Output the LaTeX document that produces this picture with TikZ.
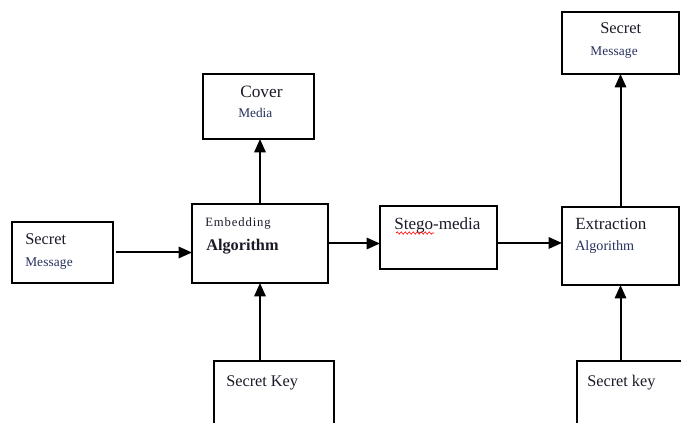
\documentclass[tikz,border=0pt]{standalone}
\usepackage{fontspec}
\setmainfont{Liberation Serif}
\usetikzlibrary{arrows.meta,decorations.pathmorphing}
\definecolor{txt}{HTML}{1A1A28}
\definecolor{txtb}{HTML}{26305E}
\tikzset{
  box/.style={draw, line width=1.3pt, inner sep=0pt, outer sep=0pt},
  arr/.style={line width=1.5pt, -{Triangle[length=10pt,width=8.5pt]}},
  lbl/.style={anchor=base west, inner sep=0pt, text=txt},
  lbls/.style={anchor=base west, inner sep=0pt, text=txtb},
}
\begin{document}
\begin{tikzpicture}[x=0.75pt,y=-0.75pt]
\useasboundingbox (0,0) rectangle (681,423);
\clip (0,0) rectangle (681,423);
% boxes
\node[box, minimum width=75.75pt, minimum height=45.75pt] (msg) at (62.5,252.5) {};
\node[box, minimum width=83.25pt, minimum height=48.75pt] (cover) at (258.5,106.5) {};
\node[box, minimum width=102pt, minimum height=59.25pt] (emb) at (260,243.5) {};
\node[box, minimum width=87.75pt, minimum height=47.25pt] (stego) at (438.5,237.5) {};
\node[box, minimum width=87.75pt, minimum height=58.5pt] (ext) at (620.5,246) {};
\node[box, minimum width=87.75pt, minimum height=46.5pt] (msgout) at (620.5,43) {};
\node[box, minimum width=90pt, minimum height=74.25pt] (key) at (274,410.5) {};
\node[box, minimum width=107.25pt, minimum height=74.25pt] (keyout) at (648.5,410.5) {};
% texts
\node[lbl, font=\fontsize{12.3}{14}\selectfont] (t1) at (25,245) {Secret};
\node[lbls, font=\fontsize{10}{12}\selectfont\addfontfeature{LetterSpace=1}] (t2) at (25,267) {Message};
\node[lbl, font=\fontsize{13}{15}\selectfont] (t3) at (240,98) {Cover};
\node[lbls, font=\fontsize{10}{12}\selectfont] (t4) at (238,118) {Media};
\node[lbl, font=\fontsize{9.5}{12}\selectfont\addfontfeature{LetterSpace=7}] (t5) at (205,227) {Embedding};
\node[lbl, font=\fontsize{12.2}{14}\selectfont\bfseries] (t6) at (206,251) {Algorithm};
\node[lbl, font=\fontsize{12.8}{15}\selectfont] (t7) at (394,230) {Stego-media};
\node[lbl, font=\fontsize{12.8}{15}\selectfont] (t8) at (575,230) {Extraction};
\node[lbls, font=\fontsize{10.6}{12}\selectfont] (t9) at (575,251) {Algorithm};
\node[lbl, font=\fontsize{12.3}{14}\selectfont] (t10) at (600,34) {Secret};
\node[lbls, font=\fontsize{10}{12}\selectfont\addfontfeature{LetterSpace=1}] (t11) at (590,56) {Message};
\node[lbl, font=\fontsize{12.2}{14}\selectfont] (t12) at (226,387) {Secret Key};
\node[lbl, font=\fontsize{12.2}{14}\selectfont] (t13) at (587,387) {Secret key};
% spellcheck underline
\coordinate (u1) at (396,233);
\coordinate (u2) at (434,233);
\draw[red, line width=0.5pt, decorate, decoration={snake, segment length=3pt, amplitude=0.8pt}] (u1) -- (u2);
% connectors
\draw[arr, shorten <=2.2pt] (msg.east) -- (msg.east -| emb.west);
\draw[arr] (emb.north) -- (emb.north |- cover.south);
\draw[arr] (key.north -| emb.south) -- (emb.south);
\draw[arr] (emb.east) -- (emb.east -| stego.west);
\draw[arr] ([yshift=-4.1pt]stego.east) -- ([yshift=-4.1pt]stego.east -| ext.west);
\draw[arr] (ext.north) -- (ext.north |- msgout.south);
\draw[arr] (keyout.north -| ext.south) -- (ext.south);
\end{tikzpicture}
\end{document}
